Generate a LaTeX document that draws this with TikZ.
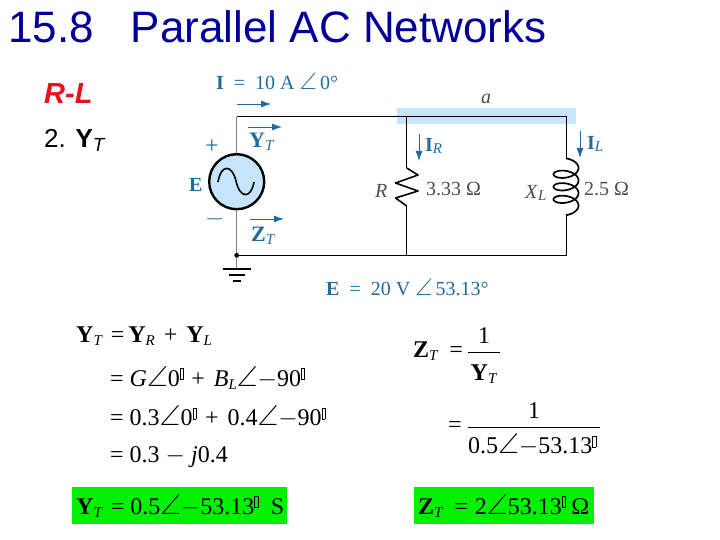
\documentclass[tikz,border=0pt]{standalone}
\usepackage{amssymb}
\usepackage[no-math]{fontspec}
\usepackage{tikz}
\usepackage{xcolor}
\setmainfont{Liberation Serif}
\newfontfamily\sansfont{Liberation Sans}
\usetikzlibrary{
    arrows.meta,
    calc,
    positioning
}
\definecolor{titleblue}{HTML}{000099}
\definecolor{rlred}{HTML}{E8101A}
\definecolor{figblue}{HTML}{1F6C9C}
\definecolor{figlight}{HTML}{C6E5FA}
\definecolor{figgrey}{HTML}{808080}
\definecolor{boxgreen}{HTML}{00F000}
\newcommand{\fs}[1]{\fontsize{#1}{#1}\selectfont}
\newcommand{\ang}{\scalebox{1.2}{$\angle$}}
\newcommand{\figang}{\hspace{5pt}\scalebox{1.2}{$\angle$}\hspace{3pt}}
\newcommand{\tofu}{\raisebox{0.62ex}{\setlength{\fboxsep}{0pt}\setlength{\fboxrule}{0.3pt}\fbox{\rule{0pt}{0.46em}\rule{0.12em}{0pt}}}}
\newcommand{\sbs}[1]{\raisebox{-0.3ex}{\fs{15}\textit{#1}}}
\newcommand{\minus}{$-$}
\newcommand{\eq}{\hspace{8pt}=\hspace{6pt}}
\newcommand{\feq}{\hspace{10pt}=\hspace{10pt}}
\tikzset{
    eqn/.style={anchor=west, inner sep=0pt, font=\fs{24}},
    fig/.style={anchor=west, inner sep=0pt, font=\fs{20}, text=figblue},
    figk/.style={anchor=west, inner sep=0pt, font=\fs{20}, text=black!70},
    wire/.style={draw=black, line width=0.9pt},
    greywire/.style={draw=figgrey, line width=1.4pt},
    flow/.style={draw=figblue, line width=0.9pt, -{Latex[length=10pt, width=7pt]}},
    greenbox/.style={fill=boxgreen, draw=none}
}

\begin{document}
\begin{tikzpicture}[x=1pt, y=-1pt]
    \useasboundingbox (0, 0) rectangle (720, 540);
    % heading
    \node[anchor=west, inner sep=0pt, text=titleblue, font=\sansfont\fs{44}] (title) at (8, 27) {15.8\hspace{37pt}Parallel AC Networks};
    \node[anchor=west, inner sep=0pt, text=rlred, font=\sansfont\bfseries\itshape\fs{29}] (rl) at (44, 94) {R-L};
    \node[anchor=west, inner sep=0pt, font=\sansfont\fs{26}] (item) at (44, 140) {2. \textbf{Y}\raisebox{-0.3ex}{\fs{19}\textit{T}}};
    % circuit
    \fill[figlight] (397, 108) rectangle (576, 124);
    \coordinate (tl) at (236.7, 116.7);
    \coordinate (tm) at (406.7, 116.7);
    \coordinate (tr) at (566.7, 116.7);
    \coordinate (bl) at (236.7, 255.3);
    \coordinate (bm) at (406.7, 255.3);
    \coordinate (br) at (566.7, 255.3);
    \coordinate (rtop) at (406.7, 168);
    \coordinate (rbot) at (406.7, 206);
    \coordinate (ltop) at (566.7, 159);
    \coordinate (lbot) at (566.7, 214);
    \coordinate (gnd) at (236.7, 269);
    \node[circle, draw=black, fill=figlight, line width=2.4pt, minimum size=55pt, inner sep=0pt] (src) at (236.7, 181.7) {};
    \draw[greywire] (tl) -- (src.north);
    \draw[greywire] (src.south) -- (bl);
    \draw[greywire] (bl) -- (gnd);
    \draw[wire] (tl) -- (tr) -- (ltop);
    \draw[wire] (lbot) -- (br) -- (bl);
    \draw[wire] (tm) -- (rtop);
    \draw[wire] (rbot) -- (bm);
    \fill (bl) circle (2.4);
    \draw[line width=2pt] (223, 269) -- (251, 269);
    \draw[line width=2pt] (229, 275) -- (245, 275);
    \draw[line width=2.4pt] (233, 281) -- (241, 281);
    % source wave
    \draw[line width=1.6pt] (218, 182) .. controls (221, 164) and (232, 164) .. (236, 181)
        .. controls (240, 199) and (251, 199) .. (254, 182);
    % resistor
    \draw[line width=1.6pt, line join=round] (rtop) -- (418, 175) -- (395.5, 183) -- (418, 191) -- (395.5, 198) -- (rbot);
    % inductor
    \draw[line width=1.7pt] plot[smooth, samples=120, domain=-90:1170] ({566 + 12.5*cos(\x)}, {168 + 0.0348*\x + 6.5*sin(\x)});
    % arrows
    \coordinate (ia) at (237, 104);
    \coordinate (ib) at (271, 104);
    \draw[flow] (ia) -- (ib);
    \coordinate (ya) at (248, 127);
    \coordinate (yb) at (282, 127);
    \draw[flow] (ya) -- (yb);
    \coordinate (za) at (250, 219);
    \coordinate (zb) at (284, 219);
    \draw[flow] (za) -- (zb);
    \coordinate (ira) at (419, 134);
    \coordinate (irb) at (419, 161);
    \draw[flow] (ira) -- (irb);
    \coordinate (ila) at (580, 131);
    \coordinate (ilb) at (580, 158);
    \draw[flow] (ila) -- (ilb);
    % figure labels
    \node[fig] (lI) at (216, 81) {\textbf{I}\feq 10 A\figang 0°};
    \node[fig, font=\fs{22}] (lY) at (249, 142) {\textbf{Y}\sbs{T}};
    \node[fig, font=\fs{22}] (lZ) at (251, 236) {\textbf{Z}\sbs{T}};
    \node[fig] (lE) at (189, 185) {\textbf{E}};
    \node[fig, font=\fs{24}] (lplus) at (205, 147) {+};
    \node[fig, font=\fs{24}] (lminus) at (205, 219) {\minus};
    \node[fig] (lIR) at (425, 146) {\textbf{I}\sbs{R}};
    \node[fig] (lIL) at (587, 144) {\textbf{I}\sbs{L}};
    \node[fig] (lEv) at (326, 287) {\textbf{E}\feq 20 V\figang 53.13°};
    \node[figk] (la) at (481, 99) {\textit{a}};
    \node[figk] (lR) at (375, 191) {\textit{R}};
    \node[figk] (lrv) at (426, 189) {3.33 Ω};
    \node[figk] (lXL) at (525, 193) {\textit{X}\sbs{L}};
    \node[figk] (lxv) at (584, 189) {2.5 Ω};
    % left equations
    \node[greenbox, minimum width=215pt, minimum height=37pt, inner sep=0pt] (gy) at (179.5, 505.5) {};
    \node[eqn] (y1) at (76, 336) {\textbf{Y}\sbs{T}\hspace{8pt}=\hspace{4pt}\textbf{Y}\sbs{R}\hspace{3pt} +\hspace{3pt} \textbf{Y}\sbs{L}};
    \node[eqn] (y2) at (110, 378) {= \textit{G}\ang 0\tofu\hspace{2pt} +\hspace{3pt} \textit{B}\sbs{L}\ang \minus 90\tofu};
    \node[eqn] (y3) at (110, 417) {= 0.3\ang 0\tofu\hspace{3pt} +\hspace{3pt} 0.4\ang \minus 90\tofu};
    \node[eqn] (y4) at (110, 457) {= 0.3 \minus{} \textit{j}0.4};
    \node[eqn] (y5) at (76, 506) {\textbf{Y}\sbs{T}\eq 0.5\ang \minus 53.13\tofu\hspace{13pt}S};
    % right equations
    \node[greenbox, minimum width=180pt, minimum height=37pt, inner sep=0pt] (gz) at (504, 505.5) {};
    \node[eqn] (z1) at (413, 351) {\textbf{Z}\sbs{T}\hspace{11pt}=};
    \node[inner sep=0pt, font=\fs{24}] (z1n) at (484, 336) {1};
    \node[inner sep=0pt, font=\fs{24}] (z1d) at (484, 374) {\textbf{Y}\sbs{T}};
    \coordinate (fa) at (468, 352);
    \coordinate (fb) at (500, 352);
    \draw[line width=0.6pt] (fa) -- (fb);
    \node[eqn] (z2) at (448, 427) {=};
    \node[inner sep=0pt, font=\fs{24}] (z2n) at (534, 411) {1};
    \node[inner sep=0pt, font=\fs{24}] (z2d) at (532, 445) {0.5\ang \minus 53.13\tofu};
    \coordinate (ga) at (468, 427);
    \coordinate (gb) at (600, 427);
    \draw[line width=0.6pt] (ga) -- (gb);
    \node[eqn] (z3) at (418, 506) {\textbf{Z}\sbs{T}\hspace{11pt}=\hspace{7pt}2\ang 53.13\tofu\hspace{6pt}Ω};
\end{tikzpicture}
\end{document}
